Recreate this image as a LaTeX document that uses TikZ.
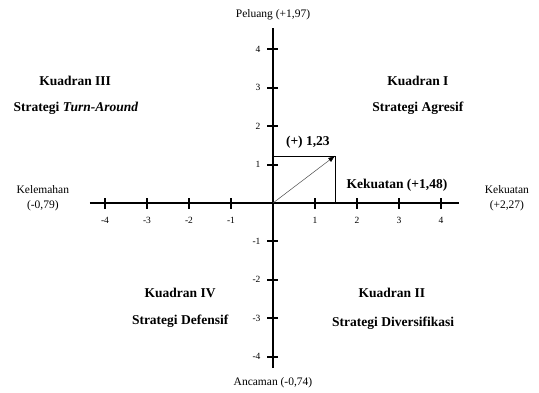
\documentclass[tikz,border=0pt]{standalone}
\usepackage{fontspec}
\setmainfont{Liberation Serif}
\usetikzlibrary{arrows.meta}

\tikzset{
  axis/.style={line width=1.6pt},
  tick/.style={line width=2pt},
  ticklabel/.style={font=\fontsize{9.5}{11}\selectfont},
  quadlabel/.style={font=\fontsize{13.5}{16}\selectfont\bfseries},
  endlabel/.style={font=\fontsize{11.5}{14.5}\selectfont, align=center}
}

\begin{document}
\begin{tikzpicture}[x=42pt,y=38.4pt]
  \useasboundingbox (-273pt,-189pt) rectangle (266pt,203pt);
  % axes
  \coordinate (O) at (0,0);
  \coordinate (W) at (-4.36,0);
  \coordinate (E) at (4.43,0);
  \coordinate (N) at (0,4.56);
  \coordinate (S) at (0,-4.3);
  \draw[axis] (W)--(E);
  \draw[axis] (S)--(N);
  \foreach \i in {-4,-3,-2,-1,1,2,3,4} {
    \draw[tick] (\i,-5.5pt)--(\i,5.5pt);
    \node[ticklabel] (xl\i) at (\i,-17pt) {\i};
    \draw[tick] (-5.5pt,\i)--(5.5pt,\i);
    \node[ticklabel,anchor=east] (yl\i) at (-9pt,\i) {\i};
  }
  % point
  \coordinate (P) at (1.48,1.23);
  \coordinate (Px) at (1.48,0);
  \coordinate (Py) at (0,1.23);
  \draw[line width=0.5pt] (Py)--(P)--(Px);
  \draw[line width=0.5pt,black!70,-{Latex[length=7pt,width=5pt,black]}] (O)--(P);
  \node[quadlabel] (val) at (0.83,1.59) {(+) 1,23};
  \node[quadlabel] (kek) at (2.95,0.47) {Kekuatan (+1,48)};
  % quadrants
  \node[quadlabel] (q1) at (3.45,3.18) {Kuadran I};
  \node[quadlabel] (s1) at (3.45,2.47) {Strategi Agresif};
  \node[quadlabel] (q3) at (-4.71,3.18) {Kuadran III};
  \node[quadlabel] (s3) at (-4.69,2.47) {Strategi \textit{Turn-Around}};
  \node[quadlabel] (q4) at (-2.21,-2.34) {Kuadran IV};
  \node[quadlabel] (s4) at (-2.21,-3.07) {Strategi Defensif};
  \node[quadlabel] (q2) at (2.83,-2.34) {Kuadran II};
  \node[quadlabel] (s2) at (2.86,-3.13) {Strategi Diversifikasi};
  % axis ends
  \node[endlabel] (pel) at (0,4.9) {Peluang (+1,97)};
  \node[endlabel] (anc) at (0,-4.69) {Ancaman (-0,74)};
  \node[endlabel] (kel) at (-5.48,0.13) {Kelemahan\\(-0,79)};
  \node[endlabel] (kuat) at (5.57,0.13) {Kekuatan\\(+2,27)};
\end{tikzpicture}
\end{document}
